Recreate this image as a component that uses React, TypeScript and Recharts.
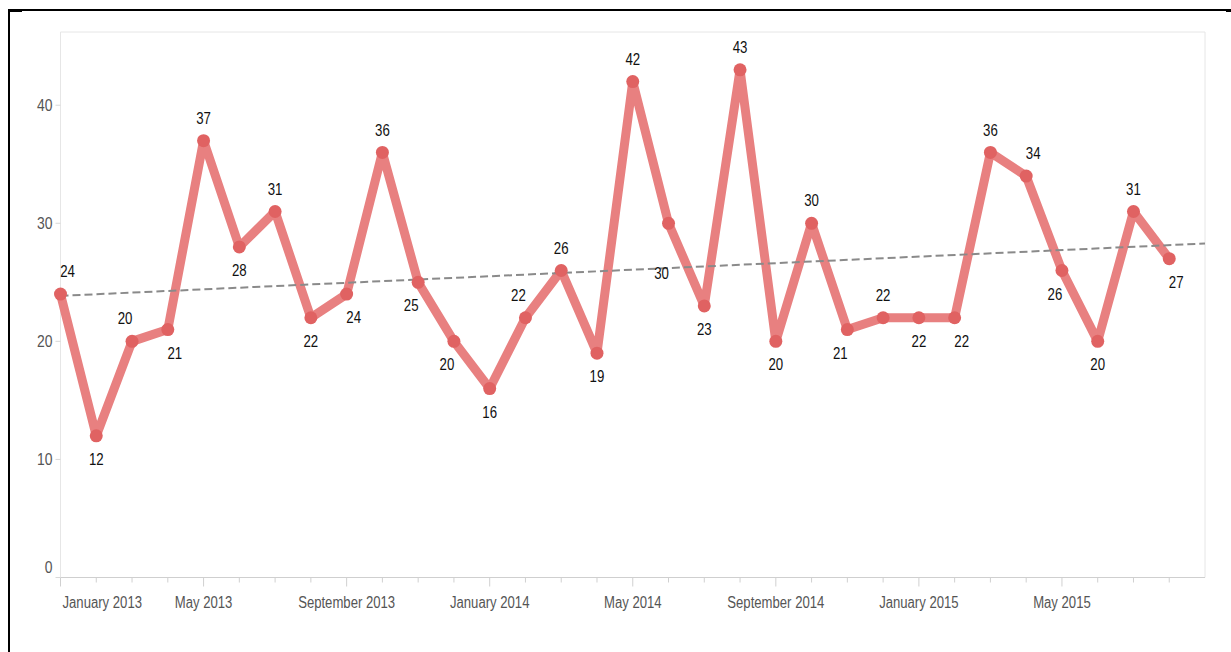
import React from "react"
import { Line, LineChart, ReferenceArea, ReferenceLine, XAxis, YAxis } from "recharts"

const months = [
  "January 2013", "February 2013", "March 2013", "April 2013", "May 2013", "June 2013",
  "July 2013", "August 2013", "September 2013", "October 2013", "November 2013", "December 2013",
  "January 2014", "February 2014", "March 2014", "April 2014", "May 2014", "June 2014",
  "July 2014", "August 2014", "September 2014", "October 2014", "November 2014", "December 2014",
  "January 2015", "February 2015", "March 2015", "April 2015", "May 2015", "June 2015",
  "July 2015", "August 2015",
]

const counts = [
  24, 12, 20, 21, 37, 28, 31, 22, 24, 36, 25, 20, 16, 22, 26, 19,
  42, 30, 23, 43, 20, 30, 21, 22, 22, 22, 36, 34, 26, 20, 31, 27,
]

// where each value label sits relative to its point
const labelSides = [
  "tr", "b", "tl", "br", "t", "b", "t", "b", "br", "t", "bl", "bl", "b", "tl", "t", "b",
  "t", "bb", "b", "t", "b", "t", "bl", "t", "b", "br", "t", "tr", "bl", "b", "t", "br",
]

const yTicks = [0, 10, 20, 30, 40]

const data = months.map((m, i) => ({ i, month: m, count: counts[i] }))

// least squares trend over the month index
const n = counts.length
const mx = (n - 1) / 2
const my = counts.reduce((s, v) => s + v, 0) / n
const sxy = counts.reduce((s, v, i) => s + (i - mx) * (v - my), 0)
const sxx = counts.reduce((s, _v, i) => s + (i - mx) * (i - mx), 0)
const slope = sxy / sxx
const intercept = my - slope * mx

const font = "'Liberation Sans', Arial, sans-serif"

const offsets: Record<string, [number, number]> = {
  t: [0, -23],
  b: [0, 23],
  tl: [-7, -23],
  tr: [7, -23],
  bl: [-7, 23],
  br: [7, 23],
  bb: [-7, 50],
}

// the reference uses a condensed face, so squeeze regular text sideways
function Narrow({ x, y, anchor = "middle", size = 16, fill = "#555", squeeze = 0.82, children }: any) {
  return (
    <text
      transform={`translate(${x},${y}) scale(${squeeze},1)`}
      x={0}
      y={0}
      textAnchor={anchor}
      dominantBaseline="central"
      fontFamily={font}
      fontSize={size}
      fill={fill}
    >
      {children}
    </text>
  )
}

function ValueLabel(props: any) {
  const { x, y, value, index } = props
  const [dx, dy] = offsets[labelSides[index]] || [0, -23]
  return (
    <Narrow x={x + dx} y={y + dy} size={17} fill="#111" squeeze={0.78}>
      {value}
    </Narrow>
  )
}

function MonthTick(props: any) {
  const { x, y, payload } = props
  const name: string = months[payload.value] || ""
  const major = /^(January|May|September)/.test(name)
  return (
    <g>
      <line x1={x} x2={x} y1={y} y2={y + (major ? 9 : 5)} stroke="#d0d0d0" strokeWidth={1} />
      {major && (
        <Narrow x={payload.value === 0 ? x + 2 : x} y={y + 25} anchor={payload.value === 0 ? "start" : "middle"} size={16}>
          {name}
        </Narrow>
      )}
    </g>
  )
}

function CountTick(props: any) {
  const { x, y, payload } = props
  const shift = payload.value === 0 ? -11 : 0
  return (
    <g>
      <line x1={x - 5} x2={x} y1={y} y2={y} stroke="#d8d8d8" strokeWidth={1} />
      <Narrow x={x - 8} y={y + shift} anchor="end" size={17}>
        {payload.value}
      </Narrow>
    </g>
  )
}

export default function App() {
  return (
    <div style={{ position: "absolute", left: 0, top: 0, width: 1231, height: 652, background: "#fff", overflow: "hidden" }}>
      <div style={{ position: "absolute", left: 8, top: 9, width: 1218, height: 700, borderLeft: "2px solid #000", borderTop: "2px solid #000" }} />
      <div style={{ position: "absolute", left: 8, top: 9, width: 14, height: 3, background: "#000" }} />
      <div style={{ position: "absolute", left: 1226, top: 9, width: 5, height: 3, background: "#000" }} />
      <div style={{ position: "absolute", left: 0, top: 0 }}>
        <LineChart width={1231} height={652} data={data} margin={{ top: 32, right: 26, bottom: 44.5, left: 10.5 }}>
          <XAxis
            type="number"
            dataKey="i"
            domain={[0, 32]}
            ticks={months.map((_m, i) => i)}
            interval={0}
            tick={<MonthTick />}
            tickLine={false}
            tickSize={0}
            tickMargin={0}
            axisLine={{ stroke: "#cfcfcf" }}
            height={30}
          />
          <YAxis
            type="number"
            domain={[0, 46.2]}
            ticks={yTicks}
            tick={<CountTick />}
            tickLine={false}
            tickSize={0}
            tickMargin={0}
            axisLine={false}
            width={50}
          />
          <ReferenceArea x1={0} x2={32} y1={0} y2={46.2} fill="none" stroke="#e6e6e6" strokeWidth={1} />
          <Line
            type="linear"
            dataKey="count"
            stroke="#e88080"
            strokeWidth={9}
            strokeLinejoin="round"
            dot={{ r: 6.5, fill: "#e06262", stroke: "none" }}
            activeDot={false}
            label={<ValueLabel />}
            isAnimationActive={false}
          />
          <ReferenceLine
            segment={[
              { x: 0, y: intercept },
              { x: 32, y: intercept + slope * 32 },
            ]}
            stroke="#8a8a8a"
            strokeWidth={2}
            strokeDasharray="8 4"
          />
        </LineChart>
      </div>
    </div>
  )
}
